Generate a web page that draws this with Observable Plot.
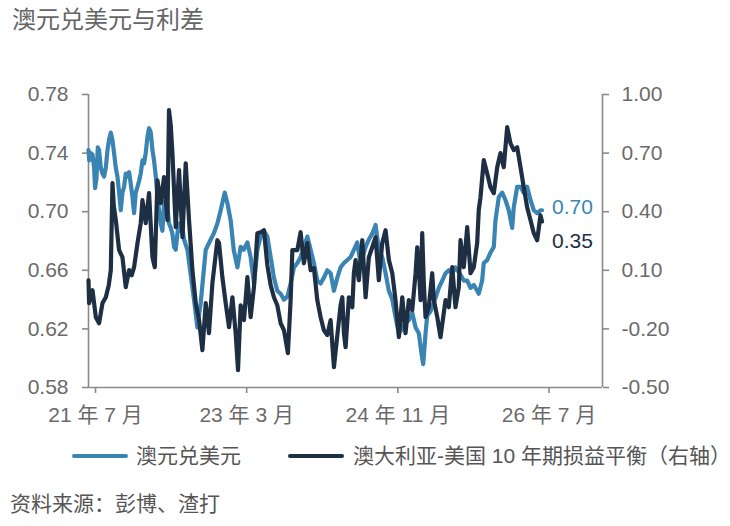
<!DOCTYPE html>
<html><head><meta charset="utf-8">
<script src="https://cdn.jsdelivr.net/npm/d3@7"></script>
<script src="https://cdn.jsdelivr.net/npm/@observablehq/plot@0.6"></script>
<style>
body{margin:0;background:#fff;font-family:"Liberation Sans","Noto Sans CJK SC",sans-serif;}
#wrap{position:relative;width:730px;height:526px;overflow:hidden;background:#fff}
.t{position:absolute;white-space:nowrap;line-height:24px}
.sw{position:absolute;height:4px;border-radius:2px}
</style></head><body>
<div id="wrap">
<div class="t" style="left:12px;top:6px;font-size:24px;line-height:28px;color:#666">澳元兑美元与利差</div>
<div id="chart" style="position:absolute;left:0;top:40px"></div>
<div id="legend"></div>
<div class="t" style="left:10px;top:492px;font-size:21px;color:#555">资料来源：彭博、渣打</div>
</div>
<script>
// Month index from 21年7月 (0) ; tick labels every 20 months
const xTicks = [0, 20, 40, 60];
const xTickLabels = ["21 年 7 月", "23 年 3 月", "24 年 11 月", "26 年 7 月"];
const leftTicks = [0.58, 0.62, 0.66, 0.70, 0.74, 0.78];
const rightDomain = [-0.5, 1.0];
const seriesNames = ["澳元兑美元", "澳大利亚-美国 10 年期损益平衡（右轴）"];
const colors = ["#3a84b4", "#1e2f44"];

// 澳元兑美元 (left axis)
const audT = [
 0,0.1,0.3,0.53,0.74,0.87,1.06,1.23,1.4,1.63,
 1.85,2.06,2.29,2.51,2.72,2.95,3.17,3.38,3.61,3.83,
 4.05,4.27,4.49,4.71,4.93,5.16,5.37,5.59,5.82,6.03,
 6.25,6.48,6.69,6.91,7.14,7.35,7.57,7.8,8.01,8.24,
 8.46,8.67,8.9,9.12,9.33,9.56,9.78,9.99,10.22,10.44,
 10.65,10.88,11.1,11.32,11.54,11.76,11.98,12.2,12.43,12.64,
 13.09,13.52,13.96,14.41,14.85,15.51,16.17,16.56,17.05,17.49,
 18.02,18.37,18.81,19.21,19.7,20.13,20.53,21.02,21.45,21.89,
 22.34,22.78,23.21,23.66,24.1,24.53,24.98,25.42,25.86,26.31,
 26.74,27.18,27.63,28.06,28.5,28.95,29.39,29.82,30.27,30.71,
 31.14,31.59,32.03,32.47,32.92,33.35,33.79,34.24,34.67,35.11,
 35.56,36,36.66,37.09,37.54,37.98,38.41,38.86,39.3,39.74,
 40.19,40.62,41.06,41.51,41.94,42.38,42.83,43.27,43.7,44.06,
 44.28,44.59,44.81,45.25,45.69,46.35,46.8,47.23,47.67,48.12,
 48.55,49.21,49.65,50.1,50.54,50.97,51.42,51.63,52.08,52.29,
 52.74,53.18,53.62,53.84,54.28,54.73,55.16,55.6,56.05,56.26,
 56.71,57.15,57.58,58.03,58.47,58.91,59.36,59.79,60];
const audV = [
 0.742,0.735,0.740,0.739,0.730,0.716,0.723,0.744,0.742,0.730,
 0.726,0.724,0.730,0.742,0.749,0.754,0.749,0.740,0.730,0.724,
 0.713,0.701,0.713,0.717,0.726,0.724,0.727,0.719,0.710,0.699,
 0.713,0.717,0.721,0.726,0.735,0.733,0.740,0.751,0.757,0.754,
 0.742,0.735,0.724,0.710,0.701,0.692,0.687,0.706,0.708,0.703,
 0.692,0.689,0.685,0.676,0.674,0.685,0.692,0.687,0.689,0.681,
 0.674,0.657,0.640,0.621,0.638,0.674,0.681,0.685,0.692,0.701,
 0.713,0.706,0.694,0.674,0.662,0.676,0.674,0.679,0.669,0.651,
 0.674,0.683,0.687,0.683,0.669,0.655,0.646,0.644,0.640,0.642,
 0.651,0.662,0.665,0.669,0.676,0.683,0.674,0.665,0.653,0.651,
 0.655,0.660,0.658,0.646,0.655,0.662,0.665,0.667,0.669,0.674,
 0.679,0.664,0.676,0.681,0.685,0.691,0.674,0.669,0.658,0.646,
 0.640,0.628,0.617,0.620,0.624,0.626,0.631,0.621,0.617,0.603,
 0.596,0.617,0.629,0.632,0.638,0.648,0.653,0.658,0.660,0.658,
 0.662,0.657,0.653,0.653,0.648,0.650,0.646,0.644,0.653,0.665,
 0.667,0.672,0.676,0.694,0.710,0.713,0.708,0.701,0.689,0.703,
 0.717,0.717,0.713,0.717,0.708,0.701,0.699,0.701,0.701];

// 澳大利亚-美国 10 年期损益平衡 (right axis)
const sprT = [
 0,0.08,0.53,0.97,1.4,1.85,2.29,2.68,2.95,3.17,
 3.34,3.61,4.05,4.49,4.93,5.37,5.72,6.03,6.48,6.91,
 7.14,7.57,8.01,8.46,8.77,9.12,9.56,9.99,10.44,10.65,
 10.88,11.1,11.54,11.98,12.43,12.86,13.3,13.75,14.19,14.63,
 15.07,15.51,15.94,16.39,17.05,17.27,17.71,18.15,18.59,19.04,
 19.47,19.78,20.13,20.57,21.02,21.45,21.89,22.34,22.78,23.21,
 23.66,24.1,24.53,24.98,25.42,25.86,26.38,26.74,26.97,27.63,
 28.06,28.5,28.95,29.16,29.39,29.82,30.27,30.71,31.14,31.59,
 32.03,32.47,32.92,33.35,33.58,33.79,34.01,34.45,34.9,35.11,
 35.33,35.77,36.22,36.66,37.09,37.54,37.98,38.41,38.86,39.3,
 39.74,40.19,40.62,41.06,41.51,41.94,42.38,42.83,43.27,43.49,
 43.7,43.93,44.15,44.36,44.59,45.02,45.47,45.69,46.14,46.57,
 47.23,47.67,48.12,48.55,48.99,49.21,49.65,50.1,50.54,50.97,
 51.42,51.63,51.86,52.29,52.74,53.18,53.62,54.07,54.5,54.94,
 55.39,55.82,56.26,56.71,57.15,57.58,58.03,58.47,58.91,59.36,
 59.79,60];
const sprV = [
 0.049,-0.068,-0.002,-0.140,-0.171,-0.068,-0.038,0.024,0.101,0.546,
 0.433,0.357,0.203,0.167,0.014,0.101,0.075,0.116,0.239,0.341,
 0.459,0.341,0.495,0.167,0.116,0.561,0.444,0.577,0.357,0.920,
 0.843,0.700,0.321,0.613,0.270,0.648,0.357,0.101,-0.068,-0.155,
 -0.309,-0.068,-0.222,0.034,0.254,0.239,0.065,-0.068,-0.191,-0.038,
 -0.222,-0.411,-0.079,-0.155,0.065,-0.140,0.014,0.290,0.295,0.305,
 0.126,0.024,-0.038,-0.079,-0.171,-0.207,-0.324,-0.053,0.203,0.203,
 0.295,0.136,0.239,0.167,0.101,0.111,-0.053,-0.140,-0.207,-0.232,
 -0.155,-0.396,-0.232,-0.079,-0.038,-0.222,-0.294,-0.038,-0.089,0.085,
 0.152,0.049,0.254,-0.038,0.167,0.218,0.270,0.049,0.239,0.305,
 0.152,0.085,-0.053,-0.242,-0.038,-0.222,-0.053,-0.104,0.085,0.218,
 0.116,-0.053,0.290,0.034,-0.140,-0.089,0.085,-0.053,-0.140,-0.242,
 -0.053,-0.089,0.116,-0.089,0.014,0.254,0.116,0.321,0.085,0.116,
 0.239,0.408,0.474,0.664,0.597,0.525,0.495,0.628,0.700,0.628,
 0.833,0.751,0.715,0.730,0.628,0.525,0.423,0.357,0.290,0.254,
 0.382,0.350];

const L0 = leftTicks[0], L1 = leftTicks[leftTicks.length - 1];
const toLeft = s => L0 + (s - rightDomain[0]) / (rightDomain[1] - rightDomain[0]) * (L1 - L0);
const toRight = v => rightDomain[0] + (v - L0) / (L1 - L0) * (rightDomain[1] - rightDomain[0]);

const aud = audT.map((t, i) => ({t, v: audV[i]}));
const spr = sprT.map((t, i) => ({t, s: sprV[i], v: toLeft(sprV[i])}));
const lastA = aud[aud.length - 1], lastS = spr[spr.length - 1];

const axisColor = "#6a6a6a";
const xMax = 68;

const chart = Plot.plot({
  width: 730, height: 400,
  marginTop: 54, marginBottom: 53, marginLeft: 88, marginRight: 128,
  style: {fontFamily: '"Liberation Sans","Noto Sans CJK SC",sans-serif', fontSize: "21px", background: "transparent", overflow: "visible"},
  x: {domain: [0, xMax]},
  y: {domain: [L0, L1]},
  marks: [
    Plot.ruleX([0, xMax], {stroke: "#8a8a8a", strokeWidth: 1.6}),
    Plot.ruleY([L0], {stroke: "#8a8a8a", strokeWidth: 1.6}),
    Plot.axisY(leftTicks, {anchor: "left", tickSize: 6, tickPadding: 14, stroke: "#8a8a8a", strokeWidth: 1.6, fill: axisColor, fontSize: 21, tickFormat: d => d.toFixed(2), label: null}),
    Plot.axisY(leftTicks, {anchor: "right", tickSize: 6, tickPadding: 13, stroke: "#8a8a8a", strokeWidth: 1.6, fill: axisColor, fontSize: 21, tickFormat: d => toRight(d).toFixed(2), label: null}),
    Plot.axisX(xTicks, {anchor: "bottom", tickSize: 6, tickPadding: 14, stroke: "#8a8a8a", strokeWidth: 1.6, fill: axisColor, fontSize: 21, dx: 7, tickFormat: d => xTickLabels[xTicks.indexOf(d)], label: null}),
    Plot.line(aud, {x: "t", y: "v", stroke: colors[0], strokeWidth: 4.2, strokeLinejoin: "round"}),
    Plot.line(spr, {x: "t", y: "v", stroke: colors[1], strokeWidth: 4.2, strokeLinejoin: "round"}),
    Plot.text([lastA], {x: "t", y: "v", text: d => d.v.toFixed(2), dx: 10, dy: -3, textAnchor: "start", fill: colors[0], fontSize: 21}),
    Plot.text([lastS], {x: "t", y: "v", text: d => d.s.toFixed(2), dx: 10, dy: 20, textAnchor: "start", fill: colors[1], fontSize: 21})
  ]
});
document.getElementById("chart").appendChild(chart);

// legend
const legend = document.getElementById("legend");
const items = [{sx: 72, tx: 136}, {sx: 288, tx: 353}];
seriesNames.forEach((name, i) => {
  const sw = document.createElement("div");
  sw.className = "sw";
  sw.style.cssText = `left:${items[i].sx}px;top:454px;width:56px;background:${colors[i]}`;
  legend.appendChild(sw);
  const tx = document.createElement("div");
  tx.className = "t";
  tx.style.cssText = `left:${items[i].tx}px;top:444px;font-size:21px;color:#555`;
  tx.textContent = name;
  legend.appendChild(tx);
});
</script>
</body></html>
